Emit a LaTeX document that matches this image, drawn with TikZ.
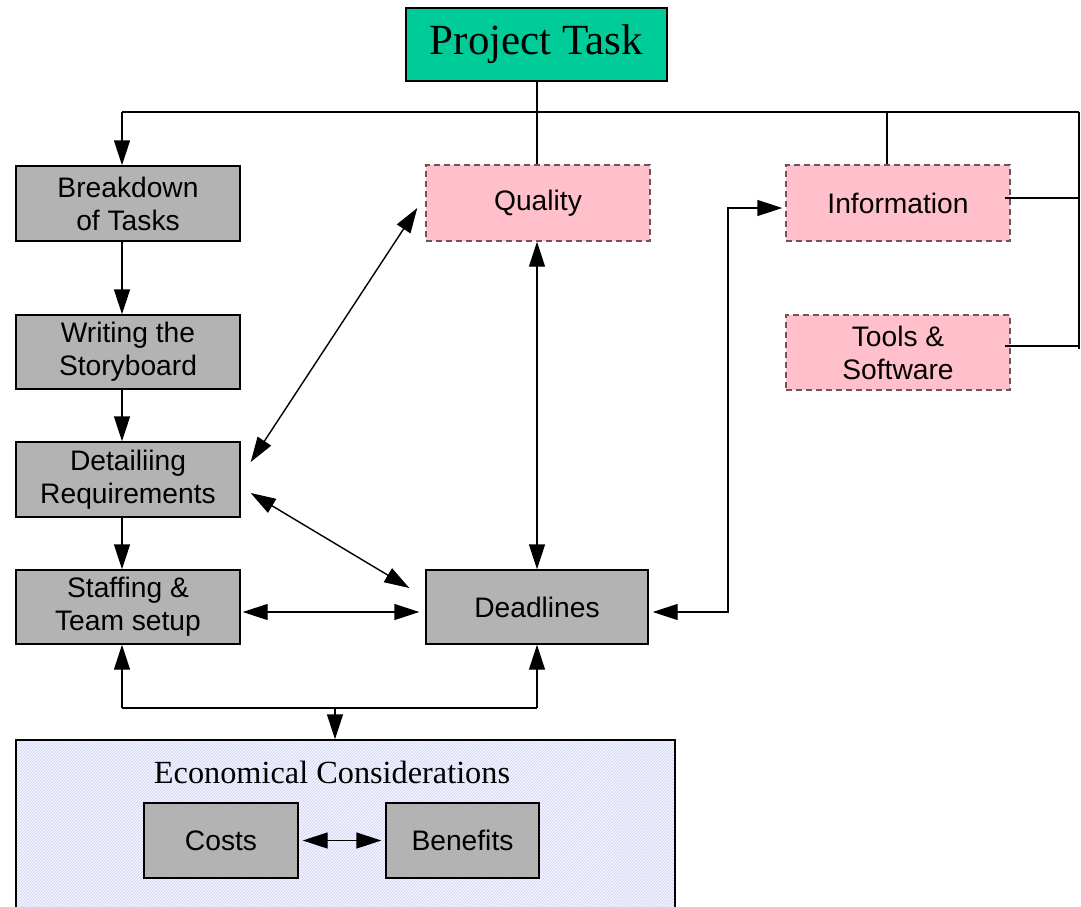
\documentclass[tikz,border=0pt]{standalone}
\usepackage{fontspec}
\setmainfont{Liberation Serif}
\setsansfont{Liberation Sans}
\usetikzlibrary{arrows.meta,calc,patterns}

\definecolor{taskgreen}{RGB}{0,204,153}
\definecolor{boxgray}{RGB}{179,179,179}
\definecolor{softpink}{RGB}{255,192,203}
\definecolor{dashbrown}{RGB}{110,85,90}
\definecolor{hatchblue}{RGB}{200,205,245}
\definecolor{ecobg}{RGB}{246,246,253}

\begin{document}
\begin{tikzpicture}[x=1pt,y=-1pt,
  line width=1.4pt,
  tip/.style={-{Triangle[length=25pt,width=16pt]}},
  dbl/.style={{Triangle[length=25pt,width=16pt]}-{Triangle[length=25pt,width=16pt]}},
  graybox/.style={draw=black,fill=boxgray,inner sep=0pt,align=center,
    font=\sffamily\fontsize{28.2}{33}\selectfont},
  pinkbox/.style={draw=dashbrown,dash pattern=on 6pt off 4pt,fill=softpink,
    inner sep=0pt,align=center,font=\sffamily\fontsize{28.2}{33}\selectfont},
]
\useasboundingbox (0,0) rectangle (1081,906);

% economical considerations panel (runs past the lower edge)
\node[draw=black,fill=ecobg,minimum width=659pt,minimum height=180pt,inner sep=0pt]
  (eco) at (345.5,830) {};
\fill[pattern=north east lines,pattern color=hatchblue] (17,741) rectangle (674,919);
\node[font=\fontsize{32.3}{36}\selectfont] (ecotitle) at (332,772) {Economical Considerations};
\node[graybox,minimum width=154pt,minimum height=75pt] (costs) at (221,840.5) {Costs};
\node[graybox,minimum width=153pt,minimum height=75pt] (ben) at (462.5,840.5) {Benefits};

% main task
\node[draw=black,fill=taskgreen,minimum width=261pt,minimum height=73pt,inner sep=0pt,
  font=\fontsize{43}{48}\selectfont] (task) at (536.5,44.5) {Project Task};

% left column
\node[graybox,minimum width=224pt,minimum height=75pt] (brk) at (128,203.5) {Breakdown\\of Tasks};
\node[graybox,minimum width=224pt,minimum height=74pt] (wri) at (128,352) {Writing the\\Storyboard};
\node[graybox,minimum width=224pt,minimum height=75pt] (det) at (128,479.5) {Detailiing\\Requirements};
\node[graybox,minimum width=224pt,minimum height=74pt] (sta) at (128,607) {Staffing \&\\Team setup};

% middle and right
\node[pinkbox,minimum width=224pt,minimum height=76pt] (qual) at (538,203) {Quality};
\node[pinkbox,minimum width=224pt,minimum height=76pt] (info) at (898,203) {Information};
\node[pinkbox,minimum width=224pt,minimum height=75pt] (tools) at (898,352.5) {Tools \&\\Software};
\node[graybox,minimum width=222pt,minimum height=74pt] (dead) at (537,607) {Deadlines};

% top distribution bus
\coordinate (busL) at (122,112);
\coordinate (busR) at (1079,112);
\draw (dead.north |- task.south) -- (dead.north |- qual.north);
\draw (busR) -- (busL);
\draw[tip] (busL) -- ([xshift=-6pt]brk.north);
\draw ([xshift=-11pt]info.north) -- ([xshift=-11pt]info.north |- busL);
\draw (busR) -- ([yshift=4pt]busR |- tools.east);
\draw ([xshift=-6pt,yshift=5pt]info.east) -- ([yshift=5pt]info.east -| busR);
\draw ([xshift=-6pt,yshift=6.5pt]tools.east) -- ([yshift=6.5pt]tools.east -| busR);

% left column chain
\draw[tip] ([xshift=-6pt]brk.south) -- ([xshift=-6pt]wri.north);
\draw[tip] ([xshift=-6pt]wri.south) -- ([xshift=-6pt]det.north);
\draw[tip] ([xshift=-6pt]det.south) -- ([xshift=-6pt]sta.north);

% cross links
\draw[dbl] (dead.north |- qual.south) -- (dead.north);
\draw[dbl] ($(qual.west)+(-8,5)$) -- ($(det.east)+(10,-17.5)$);
\draw[dbl] ($(det.east)+(10,13.5)$) -- ($(dead.west)+(-16,-19)$);
\draw[dbl] ($(sta.east)+(2,5)$) -- ($(dead.west)+(-6,5)$);
\draw[dbl] ($(info.west)+(-3,5)$) -- (728,208) -- (728,612) -- ($(dead.east)+(4,5)$);

% bottom bus to the economical panel
\coordinate (botL) at (122,708);
\coordinate (botR) at (537,708);
\coordinate (botM) at (335,708);
\draw (botL) -- (botR);
\draw[tip] (botL) -- ([xshift=-6pt]sta.south);
\draw[tip] (botR) -- (dead.south);
\draw[tip] (botM) -- ([xshift=-10.5pt]eco.north);
\draw[dbl] ($(costs.east)+(4,0)$) -- ($(ben.west)+(-4,0)$);
\end{tikzpicture}
\end{document}
